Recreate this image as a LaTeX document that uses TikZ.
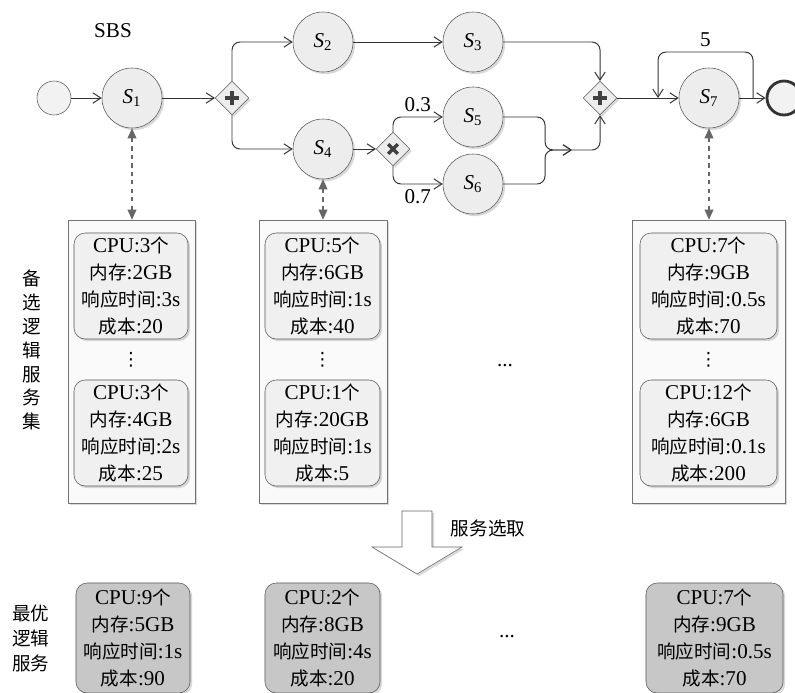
\documentclass[tikz,border=0pt]{standalone}
\usepackage{fontspec}
\setmainfont{Liberation Serif}
\newfontfamily\cjk[Scale=0.88]{Noto Sans CJK SC}
\newfontfamily\symf{DejaVu Sans}
\usetikzlibrary{arrows.meta,shapes.geometric,shadows,positioning,calc}
\newcommand{\zh}[1]{{\cjk #1}}
\newcommand{\sv}[1]{\textit{S}\textsubscript{#1}}
\newcommand{\spec}[4]{CPU:#1\zh{个}\\\zh{内存}:#2GB\\\zh{响应时间}:#3s\\\zh{成本}:#4}

\begin{document}
\begin{tikzpicture}[
    x=0.025cm, y=-0.025cm,
    font=\fontsize{15}{19.2}\selectfont,
    softshadow/.style={drop shadow={shadow xshift=1.5pt,shadow yshift=-1.5pt,opacity=0.3}},
    task/.style={circle,draw=black!65,fill=black!7,minimum size=1.5cm,inner sep=0pt,softshadow},
    ev/.style={circle,draw=black!65,fill=black!5,minimum size=0.85cm,inner sep=0pt},
    gate/.style={diamond,draw=black!65,fill=black!7,minimum size=0.84cm,inner sep=0pt,softshadow},
    pool/.style={rectangle,draw=black!55,fill=black!2,minimum height=7.075cm,softshadow},
    cand/.style={rectangle,rounded corners=8pt,draw=black!65,fill=black!6,align=center,minimum height=2.65cm,inner sep=1pt,softshadow},
    best/.style={cand,fill=black!22,minimum height=2.75cm},
    more/.style={inner sep=0pt,font=\fontsize{13}{13}\selectfont\symf},
    sign/.style={line width=2.3pt,black!75},
    flow/.style={draw=black!80,line width=0.7pt,rounded corners=0.2cm,-{Straight Barb[length=0.2cm,width=0.26cm]}},
    link/.style={draw=black!60,dashed,line width=0.8pt,{Triangle[length=0.25cm,width=0.22cm]}-{Triangle[length=0.25cm,width=0.22cm]}},
    cjklab/.style={align=center,font=\fontsize{15}{17}\selectfont\cjk}
]
    \useasboundingbox (0,0) rectangle (795,692);

    \node (sbs) at (113,31) {SBS};
    \node[ev] (start) at (54,98) {};
    \node[task] (s1) at (132,98) {\sv{1}};
    \node[gate] (g1) at (232,98) {};
    \node[task] (s2) at (323,42) {\sv{2}};
    \node[task] (s3) at (473,42) {\sv{3}};
    \node[task] (s4) at (323,149) {\sv{4}};
    \node[gate] (g2) at (393,149) {};
    \node[task] (s5) at (473,117) {\sv{5}};
    \node[task] (s6) at (473,184) {\sv{6}};
    \node[gate] (g3) at (600,98) {};
    \node[task] (s7) at (709,98) {\sv{7}};
    \node[ev,line width=2pt,draw=black!80] (end) at (784,98) {};

    \foreach \g in {g1,g3}
        \draw[sign] ([xshift=-0.17cm]\g.center) -- ([xshift=0.17cm]\g.center)
                    ([yshift=-0.17cm]\g.center) -- ([yshift=0.17cm]\g.center);
    \draw[sign] ([shift={(-0.12cm,-0.12cm)}]g2.center) -- ([shift={(0.12cm,0.12cm)}]g2.center)
                ([shift={(-0.12cm,0.12cm)}]g2.center) -- ([shift={(0.12cm,-0.12cm)}]g2.center);

    \coordinate (bend) at (545,150);
    \coordinate (mrg) at (572,150);
    \coordinate (lpA) at (753,98);
    \coordinate (lpB) at (658,98);

    \draw[flow] (start) -- (s1);
    \draw[flow] (s1) -- (g1);
    \draw[flow] (g1.north) |- (s2);
    \draw[flow] (s2) -- (s3);
    \draw[flow] (s3) -| (g3.north);
    \draw[flow] (g1.south) |- (s4);
    \draw[flow] (s4) -- (g2);
    \draw[flow] (g2.north) |- node[above,pos=0.75] {0.3} (s5);
    \draw[flow] (g2.south) |- node[below,pos=0.75] {0.7} (s6);
    \draw[flow] (s5) -| (bend) -- (mrg);
    \draw[flow] (s6) -| (bend) -- (mrg);
    \draw[flow] (mrg) -| (g3.south);
    \draw[flow] (g3) -- (s7);
    \draw[flow] (s7) -- (end);
    \draw[flow] (lpA) -- ++(0,-46) -| node[above,pos=0.25] {5} (lpB);

    \node[pool,minimum width=3.175cm] (p1) at (131.5,361.5) {};
    \node[pool,minimum width=3.2cm] (p2) at (323,361.5) {};
    \node[pool,minimum width=3.825cm] (p3) at (708.5,361.5) {};

    \node[cand,minimum width=2.85cm] (c1a) at (131,286) {\spec{3}{2}{3}{20}};
    \node[more] (d1) at (131,360) {⋮};
    \node[cand,minimum width=2.85cm] (c1b) at (131,433) {\spec{3}{4}{2}{25}};
    \node[cand,minimum width=2.875cm] (c2a) at (322.5,286) {\spec{5}{6}{1}{40}};
    \node[more] (d2) at (322.5,360) {⋮};
    \node[cand,minimum width=2.875cm] (c2b) at (322.5,433) {\spec{1}{20}{1}{5}};
    \node[cand,minimum width=3.425cm] (c3a) at (708.5,286) {\spec{7}{9}{0.5}{70}};
    \node[more] (d3) at (708.5,360) {⋮};
    \node[cand,minimum width=3.425cm] (c3b) at (708.5,433) {\spec{12}{6}{0.1}{200}};
    \node (dm) at (505,366) {...};

    \draw[link] (s1.south) -- (s1.south |- p1.north);
    \draw[link] (s4.south) -- (s4.south |- p2.north);
    \draw[link] (s7.south) -- (s7.south |- p3.north);

    \node[cjklab] (cand lab) at (32,350) {备\\选\\逻\\辑\\服\\务\\集};

    \filldraw[draw=black!60,fill=white,softshadow] (402,511) -- (432,511) -- (432,547) -- (462,547)
        -- (417,574) -- (372,547) -- (402,547) -- cycle;
    \node[cjklab] (pick) at (488,528) {服务选取};

    \node[best,minimum width=2.85cm] (b1) at (133,638) {\spec{9}{5}{1}{90}};
    \node[best,minimum width=2.875cm] (b2) at (322.5,638) {\spec{2}{8}{4}{20}};
    \node[best,minimum width=3.425cm] (b3) at (714.5,638) {\spec{7}{9}{0.5}{70}};
    \node (db) at (507,637) {...};
    \node[cjklab,font=\fontsize{15}{17.8}\selectfont\cjk] (best lab) at (31,638) {最优\\逻辑\\服务};
\end{tikzpicture}
\end{document}
